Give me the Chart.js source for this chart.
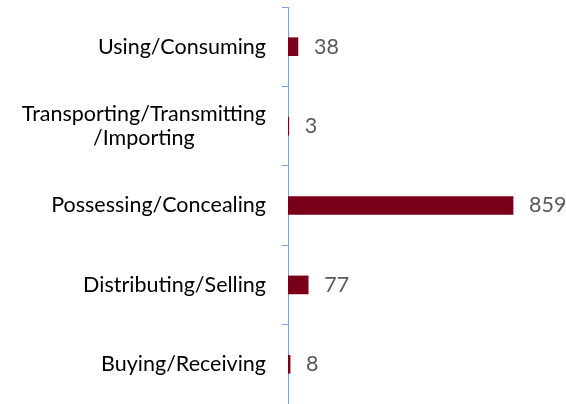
<!DOCTYPE html>
<html>
<head>
<meta charset="utf-8">
<script src="https://cdn.jsdelivr.net/npm/chart.js@4/dist/chart.umd.min.js"></script>
<style>
  html, body { margin: 0; padding: 0; background: #fff; }
  #wrap { width: 566px; height: 404px; }
</style>
</head>
<body>
<div id="wrap"><canvas id="actsChart"></canvas></div>
<script>
// categories, top to bottom
const categories = [
  'Using/Consuming',
  ['Transporting/Transmitting', '/Importing'],
  'Possessing/Concealing',
  'Distributing/Selling',
  'Buying/Receiving'
];
const counts = [38, 3, 859, 77, 8];

const barColor = '#7a0019';
const axisColor = '#7f9fd8';
const labelFont = '21.5px Lato, "Open Sans", sans-serif';

// draws the category names (multi-line ones centred) and the value labels
const labelPlugin = {
  id: 'labels',
  afterDraw(chart) {
    const ctx = chart.ctx;
    const yScale = chart.scales.y;
    const right = yScale.right - 6 - 16;
    const lineH = 24;
    ctx.save();
    ctx.font = labelFont;
    ctx.textBaseline = 'middle';
    ctx.fillStyle = '#000';
    categories.forEach((cat, i) => {
      const y = yScale.getPixelForValue(i);
      const lines = Array.isArray(cat) ? cat : [cat];
      const widest = Math.max(...lines.map(l => ctx.measureText(l).width));
      const cx = right - widest / 2;
      ctx.textAlign = 'center';
      lines.forEach((l, j) => {
        ctx.fillText(l, cx, y + (j - (lines.length - 1) / 2) * lineH);
      });
    });

    ctx.fillStyle = '#595959';
    ctx.textAlign = 'left';
    const meta = chart.getDatasetMeta(0);
    meta.data.forEach((bar, i) => {
      ctx.fillText(String(counts[i]), bar.x + 16, bar.y);
    });
    ctx.restore();
  }
};

new Chart('actsChart', {
  type: 'bar',
  data: {
    labels: categories,
    datasets: [{
      data: counts,
      backgroundColor: barColor,
      borderWidth: 0,
      barThickness: 18
    }]
  },
  options: {
    indexAxis: 'y',
    responsive: true,
    maintainAspectRatio: false,
    animation: false,
    layout: { padding: { top: 7, right: 16, bottom: 0, left: 0 } },
    plugins: {
      legend: { display: false },
      tooltip: { enabled: false }
    },
    scales: {
      x: {
        display: false,
        min: 0,
        max: 1000
      },
      y: {
        afterFit(scale) { scale.width = 288; },
        ticks: { display: false },
        grid: {
          drawOnChartArea: false,
          drawTicks: true,
          tickLength: 6,
          color: axisColor,
          offset: true
        },
        border: { display: true, color: axisColor, width: 1 }
      }
    }
  },
  plugins: [labelPlugin]
});
</script>
</body>
</html>
